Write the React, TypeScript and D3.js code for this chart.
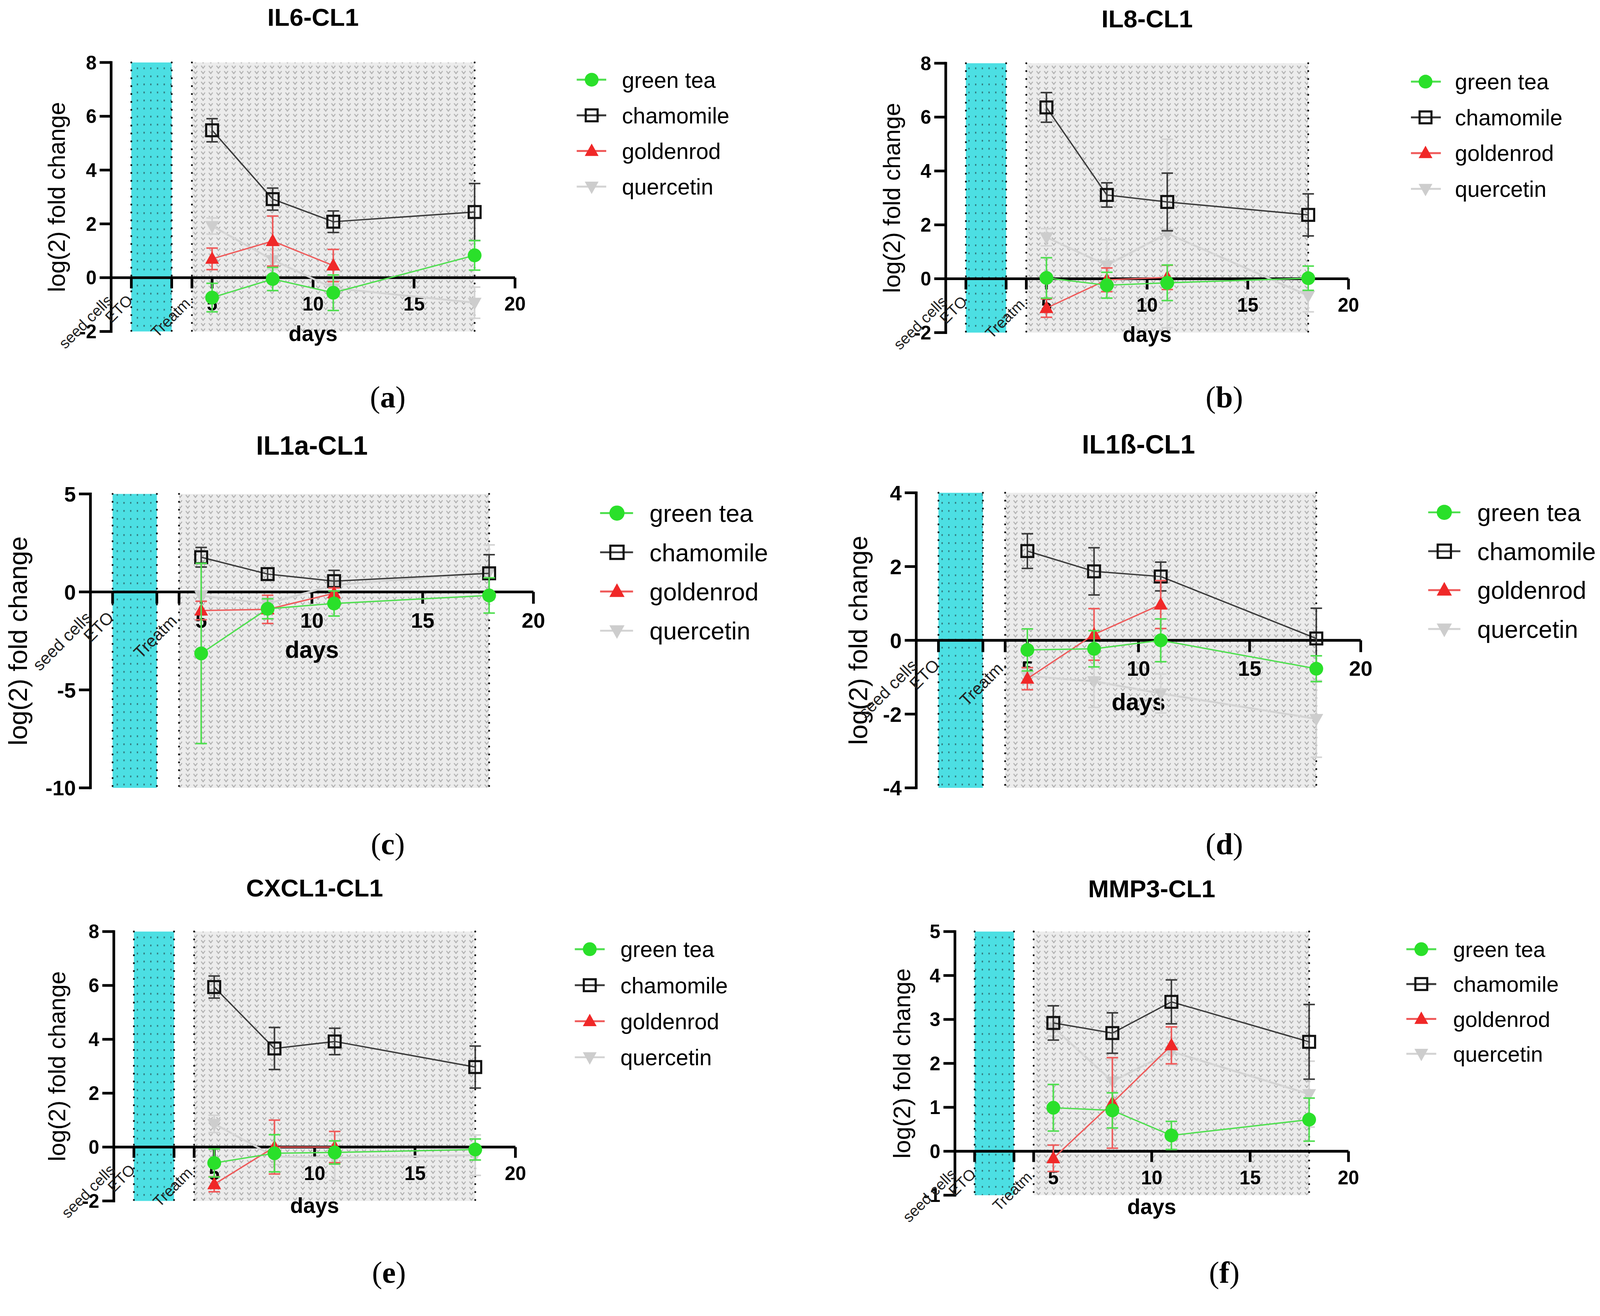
import React from "react";
import * as d3 from "d3";

const W = 4176;
const H = 3369;

// ---------- data ----------
const DAYS = [5, 8, 11, 18];
const SERIES_NAMES = ["green tea", "chamomile", "goldenrod", "quercetin"];
const MARKER_COLORS = ["#2ae02a", "#111111", "#f02828", "#cdcdcd"];
const LINE_COLORS = ["#4fdf4f", "#3a3a3a", "#ef5a5a", "#d3d3d3"];
const DRAW_ORDER = [3, 1, 2, 0];

const PANEL_TITLES = ["IL6-CL1", "IL8-CL1", "IL1a-CL1", "IL1ß-CL1", "CXCL1-CL1", "MMP3-CL1"];
const PANEL_TAGS = ["a", "b", "c", "d", "e", "f"];
const X_TICKS = [1, 3, 4, 5, 10, 15, 20];
const X_TICK_LABELS = [5, 10, 15, 20];
const PHASE_LABELS = ["seed cells", "ETO", "Treatm."];
const PHASE_DAYS = [0, 1, 4];
const ETO_BAND = [1, 3];
const TREAT_BAND = [4, 18];

const IL6_Y_TICKS = [-2, 0, 2, 4, 6, 8];
const IL8_Y_TICKS = [-2, 0, 2, 4, 6, 8];
const IL1A_Y_TICKS = [-10, -5, 0, 5];
const IL1B_Y_TICKS = [-4, -2, 0, 2, 4];
const CXCL1_Y_TICKS = [-2, 0, 2, 4, 6, 8];
const MMP3_Y_TICKS = [-1, 0, 1, 2, 3, 4, 5];

// rows: green tea, chamomile, goldenrod, quercetin ; columns: DAYS
const IL6_MEAN = [
  [-0.74, -0.05, -0.56, 0.83],
  [5.48, 2.92, 2.08, 2.44],
  [0.7, 1.36, 0.45, null],
  [1.92, 0.66, -0.39, -0.93],
];
const IL6_SD = [
  [0.53, 0.43, 0.66, 0.55],
  [0.43, 0.41, 0.4, 1.06],
  [0.4, 0.93, 0.6, null],
  [0.3, 0.35, 0.3, 0.58],
];
const IL8_MEAN = [
  [0.03, -0.24, -0.15, 0.02],
  [6.36, 3.11, 2.85, 2.37],
  [-1.09, -0.04, 0.05, null],
  [1.54, 0.5, 1.68, -0.63],
];
const IL8_SD = [
  [0.75, 0.48, 0.66, 0.45],
  [0.55, 0.45, 1.07, 0.78],
  [0.34, 0.44, 0.45, null],
  [0.32, 0.95, 3.5, 0.6],
];
const IL1A_MEAN = [
  [-3.14, -0.86, -0.59, -0.18],
  [1.77, 0.91, 0.55, 0.95],
  [-0.95, -0.89, -0.07, null],
  [-0.2, -0.6, 0.35, 1.0],
];
const IL1A_SD = [
  [4.6, 0.51, 0.64, 0.9],
  [0.5, 0.31, 0.55, 0.95],
  [0.47, 0.72, 0.27, null],
  [0.25, 0.3, 0.3, 1.4],
];
const IL1B_MEAN = [
  [-0.26, -0.23, 0.0, -0.77],
  [2.42, 1.87, 1.73, 0.05],
  [-1.04, 0.16, 0.97, null],
  [-0.97, -1.11, -1.44, -2.13],
];
const IL1B_SD = [
  [0.57, 0.49, 0.58, 0.35],
  [0.47, 0.64, 0.39, 0.82],
  [0.3, 0.7, 0.65, null],
  [0.2, 0.71, 0.53, 1.04],
];
const CXCL1_MEAN = [
  [-0.59, -0.23, -0.2, -0.09],
  [5.94, 3.66, 3.92, 2.97],
  [-1.38, 0.0, 0.0, null],
  [0.86, -0.35, -0.4, -0.3],
];
const CXCL1_SD = [
  [0.52, 0.69, 0.43, 0.39],
  [0.41, 0.78, 0.49, 0.78],
  [0.28, 1.0, 0.58, null],
  [0.32, 0.3, 0.84, 0.75],
];
const MMP3_MEAN = [
  [0.99, 0.93, 0.36, 0.72],
  [2.92, 2.69, 3.4, 2.49],
  [-0.16, 1.1, 2.41, null],
  [2.82, 1.59, 2.27, 1.3],
];
const MMP3_SD = [
  [0.53, 0.4, 0.32, 0.49],
  [0.39, 0.46, 0.5, 0.85],
  [0.3, 1.03, 0.42, null],
  [0.2, 0.5, 0.3, 0.75],
];

const PANEL_MEANS = [IL6_MEAN, IL8_MEAN, IL1A_MEAN, IL1B_MEAN, CXCL1_MEAN, MMP3_MEAN];
const PANEL_SDS = [IL6_SD, IL8_SD, IL1A_SD, IL1B_SD, CXCL1_SD, MMP3_SD];
const PANEL_Y_TICKS = [IL6_Y_TICKS, IL8_Y_TICKS, IL1A_Y_TICKS, IL1B_Y_TICKS, CXCL1_Y_TICKS, MMP3_Y_TICKS];

// ---------- layout (pixel geometry, before the global 0.981 fit) ----------
const FIT = 0.981;
type Layout = {
  x0: number; x20: number; yTop: number; yBot: number;
  titleY: number; tfs: number; ylabX: number; daysDy: number; tickDy: number; rotDy: number;
  k: number;
  lx0: number; lx1: number; mx: number; tx: number; ly0: number; ldy: number; lfs: number;
  tagX: number; tagY: number;
};
const LAYOUT: Layout[] = [
  { x0: 290, x20: 1344, yTop: 163, yBot: 865, titleY: 67, tfs: 65, ylabX: 147, daysDy: 165, tickDy: 86, rotDy: 62, k: 1,
    lx0: 1505, lx1: 1582, mx: 1544, tx: 1623, ly0: 208, ldy: 93, lfs: 58, tagX: 1012, tagY: 1037 },
  { x0: 2468, x20: 3519, yTop: 165, yBot: 868, titleY: 71, tfs: 65, ylabX: 2326, daysDy: 165, tickDy: 86, rotDy: 62, k: 1,
    lx0: 3682, lx1: 3760, mx: 3720, tx: 3797, ly0: 213, ldy: 93.3, lfs: 58, tagX: 3195, tagY: 1037 },
  { x0: 236, x20: 1392, yTop: 1289, yBot: 2056, titleY: 1187, tfs: 69, ylabX: 46, daysDy: 172, tickDy: 93, rotDy: 70, k: 1.1,
    lx0: 1566, lx1: 1652, mx: 1610, tx: 1695, ly0: 1339, ldy: 102.3, lfs: 64, tagX: 1012, tagY: 2203 },
  { x0: 2391, x20: 3551, yTop: 1286, yBot: 2056, titleY: 1183, tfs: 69, ylabX: 2238, daysDy: 182, tickDy: 93, rotDy: 68, k: 1.1,
    lx0: 3727, lx1: 3811, mx: 3769, tx: 3855, ly0: 1337, ldy: 101.5, lfs: 64, tagX: 3195, tagY: 2203 },
  { x0: 297, x20: 1345, yTop: 2431, yBot: 3134, titleY: 2339, tfs: 65, ylabX: 148, daysDy: 172, tickDy: 86, rotDy: 62, k: 1,
    lx0: 1500, lx1: 1578, mx: 1539, tx: 1619, ly0: 2477, ldy: 94, lfs: 58, tagX: 1015, tagY: 3321 },
  { x0: 2492, x20: 3519, yTop: 2431, yBot: 3119, titleY: 2342, tfs: 65, ylabX: 2353, daysDy: 164, tickDy: 86, rotDy: 62, k: 1,
    lx0: 3670, lx1: 3748, mx: 3709, tx: 3792, ly0: 2477, ldy: 91, lfs: 57, tagX: 3195, tagY: 3321 },
];

const FONT = "'Liberation Sans', Arial, Helvetica, sans-serif";

function Marker({ kind, x, y, s }: { kind: number; x: number; y: number; s: number }) {
  const c = MARKER_COLORS[kind];
  if (kind === 0) return <circle cx={x} cy={y} r={s / 2} fill={c} />;
  if (kind === 1)
    return <rect x={x - s / 2 + 2.5} y={y - s / 2 + 2.5} width={s - 5} height={s - 5} fill="none" stroke={c} strokeWidth={5.5} />;
  const h = s * 0.9;
  if (kind === 2)
    return <path d={`M${x},${y - h * 0.6}L${x + s / 2},${y + h * 0.4}L${x - s / 2},${y + h * 0.4}Z`} fill={c} />;
  return <path d={`M${x},${y + h * 0.6}L${x + s / 2},${y - h * 0.4}L${x - s / 2},${y - h * 0.4}Z`} fill={c} />;
}

function Panel({ idx }: { idx: number }) {
  const L = LAYOUT[idx];
  const ticks = PANEL_Y_TICKS[idx];
  const means = PANEL_MEANS[idx];
  const sds = PANEL_SDS[idx];
  const yDom = d3.extent(ticks) as [number, number];
  const x = d3.scaleLinear().domain([0, 20]).range([L.x0, L.x20]);
  const y = d3.scaleLinear().domain(yDom).range([L.yBot, L.yTop]);
  const y0 = y(0);
  const k = L.k;
  const tickFs = 50 * k;
  const mk = 36;

  const line = d3
    .line<number | null>()
    .defined((d) => d !== null)
    .x((_, i) => x(DAYS[i]))
    .y((d) => y(d as number));

  const dotted = (xx: number) => (
    <line x1={xx} x2={xx} y1={L.yTop} y2={L.yBot} stroke="#111" strokeWidth={5} strokeDasharray="0.1 20.5" strokeLinecap="round" />
  );

  return (
    <g>
      {/* background bands */}
      <rect x={x(TREAT_BAND[0])} y={L.yTop} width={x(TREAT_BAND[1]) - x(TREAT_BAND[0])} height={L.yBot - L.yTop} fill="url(#chev)" />
      <rect x={x(ETO_BAND[0])} y={L.yTop} width={x(ETO_BAND[1]) - x(ETO_BAND[0])} height={L.yBot - L.yTop} fill="url(#cyanDots)" />
      {dotted(x(ETO_BAND[0]))}
      {dotted(x(ETO_BAND[1]))}
      {dotted(x(TREAT_BAND[0]))}
      {dotted(x(TREAT_BAND[1]))}

      {/* title */}
      <text x={(L.x0 + L.x20) / 2} y={L.titleY} textAnchor="middle" fontWeight="bold" fontSize={L.tfs}>
        {PANEL_TITLES[idx]}
      </text>

      {/* y axis */}
      <line x1={L.x0} x2={L.x0} y1={L.yTop} y2={L.yBot} stroke="#000" strokeWidth={7} strokeLinecap="square" />
      {ticks.map((t) => (
        <g key={"yt" + t}>
          <line x1={L.x0 - 30} x2={L.x0} y1={y(t)} y2={y(t)} stroke="#000" strokeWidth={7} />
          <text x={L.x0 - 38} y={y(t)} dy="0.36em" textAnchor="end" fontWeight="bold" fontSize={tickFs}>
            {t}
          </text>
        </g>
      ))}
      <text
        transform={`translate(${L.ylabX},${(L.yTop + L.yBot) / 2}) rotate(-90)`}
        dy="0.36em"
        textAnchor="middle"
        fontSize={62 * k}
      >
        log(2) fold change
      </text>

      {/* x axis */}
      <line x1={L.x0} x2={L.x20} y1={y0} y2={y0} stroke="#000" strokeWidth={7} />
      {X_TICKS.map((t) => (
        <line key={"xt" + t} x1={x(t)} x2={x(t)} y1={y0} y2={y0 + 28 * k} stroke="#000" strokeWidth={7} />
      ))}
      {X_TICK_LABELS.map((t) => (
        <text key={"xl" + t} x={x(t)} y={y0 + L.tickDy} textAnchor="middle" fontWeight="bold" fontSize={tickFs}>
          {t}
        </text>
      ))}
      {PHASE_LABELS.map((lab, i) => (
        <text
          key={lab}
          transform={`translate(${x(PHASE_DAYS[i]) + 6},${y0 + L.rotDy}) rotate(-45)`}
          textAnchor="end"
          fontSize={40 * k}
          fill="#222"
        >
          {lab}
        </text>
      ))}
      <text x={(L.x0 + L.x20) / 2} y={y0 + L.daysDy} textAnchor="middle" fontWeight="bold" fontSize={56 * k}>
        days
      </text>

      {/* series */}
      {DRAW_ORDER.map((s) => (
        <g key={"s" + s}>
          <path d={line(means[s]) || ""} fill="none" stroke={LINE_COLORS[s]} strokeWidth={s === 3 ? 5 : 3.5} />
          {means[s].map((m, i) => {
            if (m === null) return null;
            const sd = sds[s][i] as number;
            const cx = x(DAYS[i]);
            return (
              <g key={i}>
                <line x1={cx} x2={cx} y1={y(m - sd)} y2={y(m + sd)} stroke={LINE_COLORS[s]} strokeWidth={4} />
                <line x1={cx - 15} x2={cx + 15} y1={y(m - sd)} y2={y(m - sd)} stroke={LINE_COLORS[s]} strokeWidth={4} />
                <line x1={cx - 15} x2={cx + 15} y1={y(m + sd)} y2={y(m + sd)} stroke={LINE_COLORS[s]} strokeWidth={4} />
              </g>
            );
          })}
          {means[s].map((m, i) => (m === null ? null : <Marker key={"m" + i} kind={s} x={x(DAYS[i])} y={y(m)} s={mk} />))}
        </g>
      ))}

      {/* legend */}
      {SERIES_NAMES.map((name, i) => {
        const ly = L.ly0 + i * L.ldy;
        return (
          <g key={name}>
            <line x1={L.lx0} x2={L.lx1} y1={ly} y2={ly} stroke={LINE_COLORS[i]} strokeWidth={5} />
            <Marker kind={i} x={L.mx} y={ly} s={mk * k} />
            <text x={L.tx} y={ly} dy="0.36em" fontSize={L.lfs}>
              {name}
            </text>
          </g>
        );
      })}

      {/* panel tag */}
      <text x={L.tagX} y={L.tagY} dy="0.33em" textAnchor="middle" fontSize={80} fontFamily="'Liberation Serif', 'DejaVu Serif', serif">
        (<tspan fontWeight="bold">{PANEL_TAGS[idx]}</tspan>)
      </text>
    </g>
  );
}

export default function App() {
  return (
    <svg
      width={W}
      height={H}
      viewBox={`0 0 ${W} ${H}`}
      style={{ position: "absolute", left: 0, top: 0, background: "#fff" }}
      fontFamily={FONT}
    >
      <defs>
        <pattern id="cyanDots" width={17.5} height={21} patternUnits="userSpaceOnUse">
          <rect width={17.5} height={21} fill="#4cdfe3" />
          <rect x={7} y={8} width={3.2} height={4.5} fill="#2b5f63" opacity={0.85} />
        </pattern>
        <pattern id="chev" width={20} height={14} patternUnits="userSpaceOnUse">
          <rect width={20} height={14} fill="#ececec" />
          <path d="M5,3.5L10,10L15,3.5" fill="none" stroke="#acacac" strokeWidth={2.4} />
        </pattern>
      </defs>
      <rect width={W} height={H} fill="#fff" />
      <g transform={`scale(${FIT})`}>
        {LAYOUT.map((_, i) => (
          <Panel key={i} idx={i} />
        ))}
      </g>
    </svg>
  );
}
